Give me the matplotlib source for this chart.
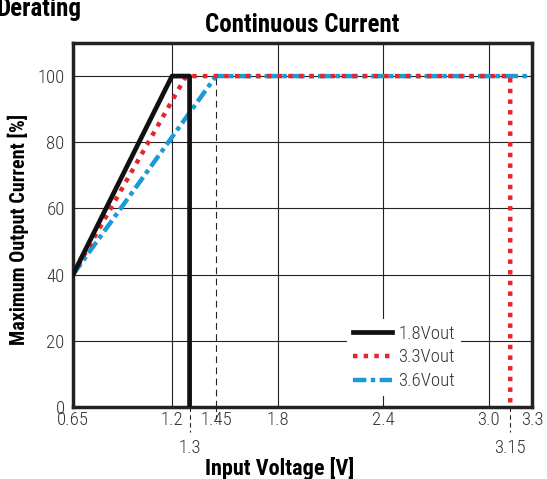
import matplotlib
matplotlib.use('Agg')
import numpy as np
import matplotlib.pyplot as plt
import matplotlib.transforms as mtransforms
from matplotlib import font_manager

# pick a narrow font if one is installed
names = set(f.name for f in font_manager.fontManager.ttflist)
narrow = [n for n in ['Liberation Sans Narrow', 'Roboto Condensed', 'DejaVu Sans Condensed'] if n in names]
plt.rcParams['font.family'] = narrow + ['DejaVu Sans']
plt.rcParams['font.stretch'] = 'condensed'

# data
v_18 = [0.65, 1.2, 1.3, 1.3]
i_18 = [40, 100, 100, 0]
v_33 = [0.65, 1.28, 3.15, 3.15]
i_33 = [40, 100, 100, 0]
v_36 = [0.65, 1.45, 3.3]
i_36 = [40, 100, 100]
labels = ['1.8Vout', '3.3Vout', '3.6Vout']

xticks_top = [0.65, 1.2, 1.45, 1.8, 2.4, 3.0, 3.3]
xticklabels_top = ['0.65', '1.2', '1.45', '1.8', '2.4', '3.0', '3.3']
xticks_low = [1.3, 3.15]
xticklabels_low = ['1.3', '3.15']
yticks = [0, 20, 40, 60, 80, 100]
xgrid = [1.2, 1.8, 2.4, 3.0]

# the original x axis is not quite linear (last segment squeezed)
scale_v = [0.65, 1.2, 3.0, 3.3]
scale_p = [0.0, 99.0, 415.5, 459.0]


def fwd(x):
    return np.interp(x, scale_v, scale_p)


def inv(p):
    return np.interp(p, scale_p, scale_v)


fig = plt.figure(figsize=(5.47, 4.79), dpi=100)
ax = fig.add_axes([73 / 547, 1 - 407 / 479, 459 / 547, 364 / 479])

ax.set_xscale('function', functions=(fwd, inv))
ax.set_xlim(0.65, 3.3)
ax.set_ylim(0, 110)

# grid
for y in yticks[1:]:
    ax.axhline(y, color='#222222', lw=0.8, zorder=1)
for x in xgrid:
    ax.axvline(x, color='#222222', lw=0.8, zorder=1)
ax.plot([1.45, 1.45], [0, 100], color='#222222', lw=0.8, ls=(0, (6, 4)), zorder=1)

# dashed marks below the axis
trans = mtransforms.blended_transform_factory(ax.transData, ax.transAxes)
for x, h in [(1.3, -0.07), (1.45, -0.045), (3.15, -0.07)]:
    ax.plot([x, x], [0, h], transform=trans, color='#222222', lw=0.8,
            ls=(0, (4, 3)), clip_on=False)

ax.plot(v_18, i_18, color='#111111', lw=3.4, label=labels[0], zorder=4,
        solid_joinstyle='round')
ax.plot(v_33, i_33, color='#e8232a', lw=3.2, ls=(0, (1.0, 1.4)), label=labels[1], zorder=3)
ax.plot(v_36, i_36, color='#1a9ad6', lw=3.2, ls=(0, (3, 1, 1, 1)), label=labels[2], zorder=2)

for s in ax.spines.values():
    s.set_linewidth(2.5)
    s.set_color('#222222')

ax.set_yticks(yticks)
ax.set_xticks(xticks_top)
ax.set_xticklabels(xticklabels_top)
ax.set_xticks(xticks_low, minor=True)
ax.set_xticklabels(xticklabels_low, minor=True)
ax.tick_params(axis='both', which='both', length=0, labelsize=13.5, colors='#333333')
ax.tick_params(axis='x', which='major', pad=3)
ax.tick_params(axis='x', which='minor', pad=23)
ax.tick_params(axis='y', pad=6)
for t in ax.get_xticklabels(which='both') + ax.get_yticklabels():
    t.set_fontweight('light')

ax.set_xlabel('Input Voltage [V]', fontsize=16, fontweight='bold', va='baseline')
ax.xaxis.set_label_coords(0.451, -0.187)
ax.set_ylabel('Maximum Output Current [%]', fontsize=14.5, fontweight='bold')
ax.yaxis.set_label_coords(-0.095, 0.489)
ax.set_title('Continuous Current', fontsize=18, fontweight='bold', pad=8)

fig.text(-0.006, 0.967, 'Derating', fontsize=18, fontweight='bold', va='baseline')

leg = ax.legend(loc='center', bbox_to_anchor=(0.721, 0.136), frameon=True,
                facecolor='white', edgecolor='none', framealpha=1,
                fontsize=13.5, handlelength=2.1, handletextpad=0.35,
                labelspacing=0.3, borderpad=0.3, fancybox=False)
for t in leg.get_texts():
    t.set_color('#333333')
    t.set_fontweight('light')

fig.savefig('out.png', dpi=100)
